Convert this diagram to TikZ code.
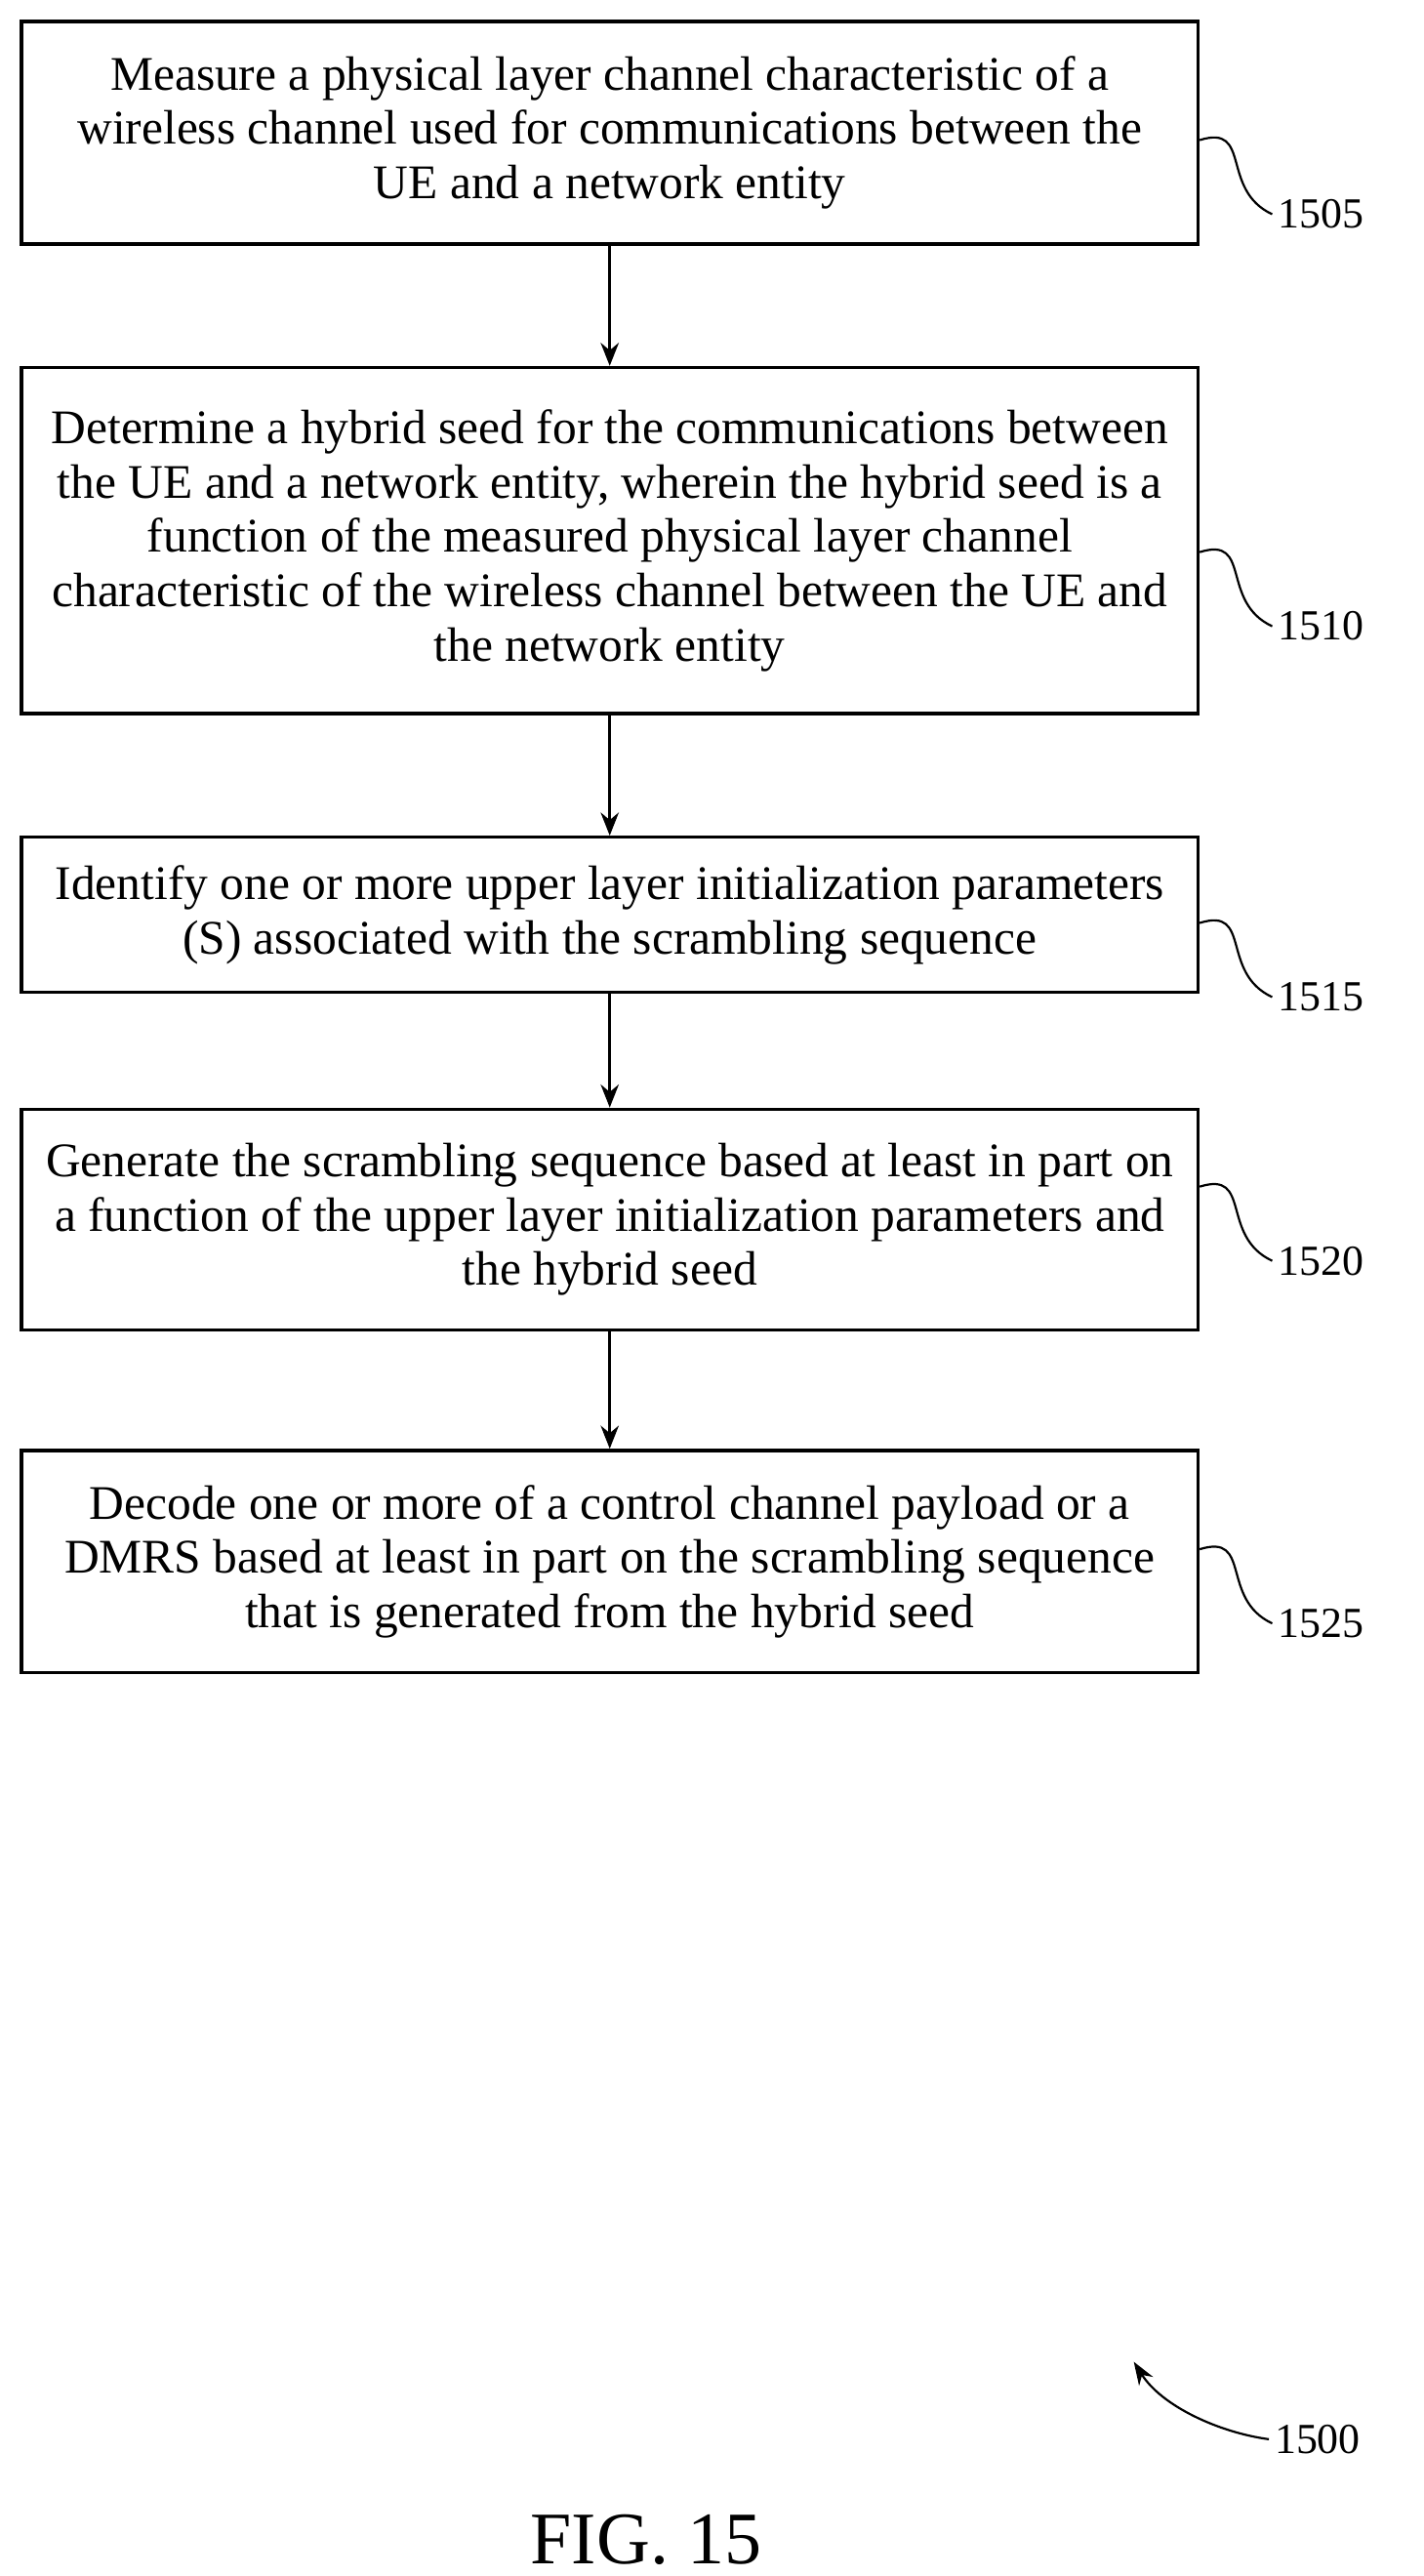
\documentclass[tikz,border=0pt]{standalone}
\usepackage{fontspec}
\setmainfont{Liberation Serif}
\usetikzlibrary{arrows.meta}
\begin{document}
\begin{tikzpicture}[x=1pt,y=-1pt,
  stepbox/.style={draw,line width=2pt,minimum width=714pt,align=center,inner sep=0pt,font=\fontsize{29.3}{33}\selectfont},
  lbl/.style={font=\fontsize{26}{28}\selectfont,anchor=west},
  flow/.style={line width=1.6pt,-{Stealth[length=14pt,width=11pt]}},
  sq/.style={line width=1.3pt}]
\useasboundingbox (0,0) rectangle (864,1563);
\node[stepbox,minimum height=135pt] (b1) at (370,80.5) {Measure a physical layer channel characteristic of a\\wireless channel used for communications between the\\UE and a network entity};
\node[stepbox,minimum height=210pt] (b2) at (370,328) {Determine a hybrid seed for the communications between\\the UE and a network entity, wherein the hybrid seed is a\\function of the measured physical layer channel\\characteristic of the wireless channel between the UE and\\the network entity};
\node[stepbox,minimum height=94pt] (b3) at (370,555) {Identify one or more upper layer initialization parameters\\(S) associated with the scrambling sequence};
\node[stepbox,minimum height=134pt] (b4) at (370,740) {Generate the scrambling sequence based at least in part on\\a function of the upper layer initialization parameters and\\the hybrid seed};
\node[stepbox,minimum height=135pt] (b5) at (370,947.5) {Decode one or more of a control channel payload or a\\DMRS based at least in part on the scrambling sequence\\that is generated from the hybrid seed};
\draw[flow] (b1) -- (b2);
\draw[flow] (b2) -- (b3);
\draw[flow] (b3) -- (b4);
\draw[flow] (b4) -- (b5);
\foreach \n/\y/\t in {1/85/1505,2/335/1510,3/560/1515,4/720/1520,5/940/1525}{
  \node[lbl] (l\n) at (772,\y+45) {\t};
  \coordinate (s\n) at (728,\y);
  \draw[sq] (s\n) .. controls (760,\y-10) and (740,\y+30) .. (l\n.west);
}
\node[lbl] (l0) at (770,1480) {1500};
\coordinate (a0) at (688,1433);
\draw[line width=1.3pt,-{Stealth[length=14pt,width=10pt]}] (l0.west) .. controls (740,1476) and (705,1460) .. (a0);
\node[font=\fontsize{45}{48}\selectfont] (fig) at (392,1541) {FIG. 15};
\end{tikzpicture}
\end{document}
